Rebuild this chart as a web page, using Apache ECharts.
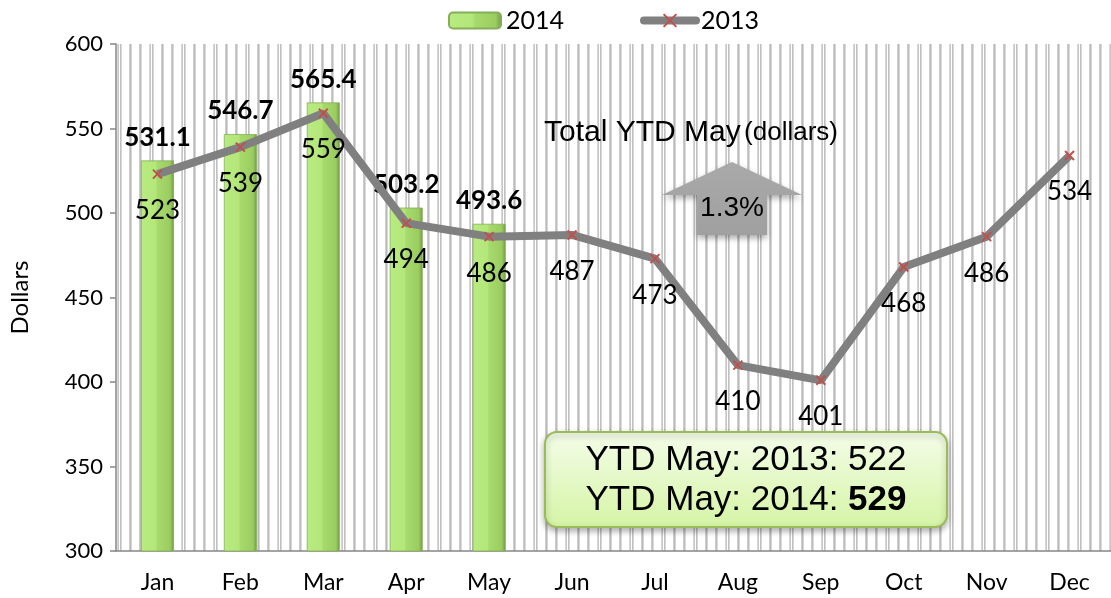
<!DOCTYPE html>
<html>
<head>
<meta charset="utf-8">
<script src="https://cdn.jsdelivr.net/npm/echarts@6/dist/echarts.min.js"></script>
<style>
  html, body { margin: 0; padding: 0; background: #fff; }
  #chart { width: 1111px; height: 598px; }
</style>
</head>
<body>
<div id="chart"></div>
<script>
// 月份 / 数据
const months = ['Jan', 'Feb', 'Mar', 'Apr', 'May', 'Jun', 'Jul', 'Aug', 'Sep', 'Oct', 'Nov', 'Dec']
const sales2014 = [531.1, 546.7, 565.4, 503.2, 493.6]
const sales2013 = [523, 539, 559, 494, 486, 487, 473, 410, 401, 468, 486, 534]
const yMin = 300
const yMax = 600
const yStep = 50

const FONT = 'Lato'

// 背景竖线图案
function makeStripes() {
  const c = document.createElement('canvas')
  c.width = 32
  c.height = 4
  const ctx = c.getContext('2d')
  ctx.fillStyle = '#fff'
  ctx.fillRect(0, 0, 32, 4)
  const lines = [[1, '#cfcfcf'], [2, '#b9b9b9'], [3, '#d6d6d6'],
    [11, '#cbcbcb'], [12, '#bebebe'], [13, '#dadada'],
    [21, '#d8d8d8'], [22, '#c6c6c6'], [24, '#c0c0c0'], [25, '#d6d6d6']]
  lines.forEach(([x, col]) => {
    ctx.fillStyle = col
    ctx.fillRect(x, 0, 1, 4)
  })
  return c
}

const chart = echarts.init(document.getElementById('chart'))

const barColor = new echarts.graphic.LinearGradient(0, 0, 1, 0, [
  { offset: 0, color: '#b9ec80' },
  { offset: 0.45, color: '#b4e67a' },
  { offset: 0.5, color: '#a7da6c' },
  { offset: 0.88, color: '#9bcc60' },
  { offset: 1, color: '#6e9a42' }
])

const option = {
  animation: false,
  textStyle: { fontFamily: FONT },
  legend: {
    left: 443,
    top: 3,
    itemWidth: 52,
    itemHeight: 16,
    itemGap: 76,
    textStyle: { fontSize: 25, color: '#000', fontFamily: FONT },
    data: [
      { name: '2014' },
      { name: '2013', lineStyle: { width: 8, cap: 'round' }, itemStyle: { borderWidth: 2 } }
    ]
  },
  grid: {
    left: 114,
    right: -6,
    top: 44,
    bottom: 47,
    show: true,
    borderWidth: 0,
    backgroundColor: { image: makeStripes(), repeat: 'repeat' }
  },
  xAxis: {
    type: 'category',
    data: months,
    axisLine: { lineStyle: { color: '#868686', width: 1.5 } },
    axisTick: { length: 8, lineStyle: { color: '#868686', width: 1.5 } },
    axisLabel: { fontSize: 23, color: '#000', fontFamily: FONT, margin: 20 }
  },
  yAxis: {
    type: 'value',
    min: yMin,
    max: yMax,
    interval: yStep,
    name: 'Dollars',
    nameLocation: 'middle',
    nameGap: 84,
    nameTextStyle: { fontSize: 24, color: '#000', fontFamily: FONT },
    axisLine: { show: true, lineStyle: { color: '#868686', width: 1.5 } },
    axisTick: { show: true, length: 6, lineStyle: { color: '#868686', width: 1.5 } },
    splitLine: { show: false },
    axisLabel: { fontSize: 22, color: '#000', fontFamily: FONT, margin: 13 }
  },
  series: [
    {
      name: '2014',
      type: 'bar',
      data: sales2014,
      barWidth: 33,
      itemStyle: { color: barColor, borderColor: '#86ad58', borderWidth: 0.8 },
      label: {
        show: true,
        position: 'top',
        distance: 10,
        fontSize: 26,
        fontWeight: 'bold',
        color: '#000',
        fontFamily: FONT
      },
      z: 2
    },
    {
      name: '2013',
      type: 'line',
      data: sales2013,
      symbol: 'path://M0,0L10,10M10,0L0,10',
      symbolSize: 9,
      itemStyle: { color: '#c0504d', borderColor: '#c0504d', borderWidth: 2 },
      lineStyle: { color: '#808080', width: 8 },
      label: {
        show: true,
        position: 'bottom',
        distance: 18,
        fontSize: 26,
        color: '#000',
        fontFamily: FONT
      },
      z: 3
    }
  ],
  graphic: [
    {
      type: 'text',
      left: 544,
      top: 118,
      z: 10,
      style: {
        text: '{a|Total YTD May} {b|(dollars)}',
        rich: {
          a: { fontSize: 30, fontFamily: 'Liberation Sans', fill: '#000' },
          b: { fontSize: 26, fontFamily: 'Liberation Sans', fill: '#000' }
        }
      }
    },
    {
      type: 'polygon',
      z: 10,
      shape: {
        points: [[732, 162], [802, 195], [767, 195], [767, 235], [697, 235], [697, 195], [662, 195]]
      },
      style: {
        fill: new echarts.graphic.LinearGradient(0, 0, 0, 1, [
          { offset: 0, color: '#a9a9a9' },
          { offset: 1, color: '#a0a0a0' }
        ]),
        shadowBlur: 6,
        shadowOffsetY: 3,
        shadowColor: 'rgba(0,0,0,0.35)'
      }
    },
    {
      type: 'text',
      z: 11,
      x: 732,
      y: 208,
      style: {
        text: '1.3%',
        fontSize: 28,
        fontFamily: 'Liberation Sans',
        fill: '#000',
        align: 'center',
        verticalAlign: 'middle'
      }
    },
    {
      type: 'rect',
      z: 10,
      shape: { x: 545, y: 432, width: 402, height: 95, r: 12 },
      style: {
        fill: new echarts.graphic.LinearGradient(0, 0, 0, 1, [
          { offset: 0, color: '#f4fde9' },
          { offset: 1, color: '#d5f4a5' }
        ]),
        stroke: '#9bbb59',
        lineWidth: 2,
        shadowBlur: 6,
        shadowOffsetY: 3,
        shadowColor: 'rgba(0,0,0,0.3)'
      }
    },
    {
      type: 'text',
      z: 11,
      x: 746,
      y: 460,
      style: {
        text: 'YTD May: 2013: 522',
        fontSize: 35,
        fontFamily: 'Liberation Sans',
        fill: '#000',
        align: 'center',
        verticalAlign: 'middle'
      }
    },
    {
      type: 'text',
      z: 11,
      x: 746,
      y: 500,
      style: {
        text: '{n|YTD May: 2014: }{b|529}',
        align: 'center',
        verticalAlign: 'middle',
        rich: {
          n: { fontSize: 35, fontFamily: 'Liberation Sans', fill: '#000' },
          b: { fontSize: 35, fontFamily: 'Liberation Sans', fontWeight: 'bold', fill: '#000' }
        }
      }
    }
  ]
}

chart.setOption(option)
</script>
</body>
</html>
